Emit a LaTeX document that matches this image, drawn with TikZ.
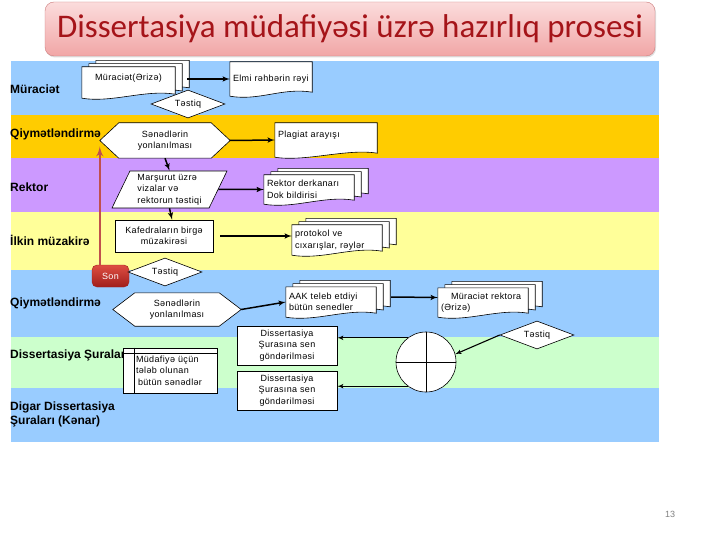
\documentclass[tikz,border=0pt]{standalone}
\usepackage{fontspec}
\setmainfont{Liberation Sans}
\newfontfamily\boxfont[LetterSpace=4]{Liberation Sans}
\newfontfamily\titlefont{Carlito}
\usetikzlibrary{shapes,arrows}
\usetikzlibrary{positioning,calc,shadows}
\usetikzlibrary{shapes.geometric}
\pgfdeclarelayer{lanes}
\pgfdeclarelayer{docs}
\pgfsetlayers{lanes,docs,main}

\definecolor{laneblue}{RGB}{153,204,255}
\definecolor{lanegold}{RGB}{255,204,0}
\definecolor{lanepurple}{RGB}{204,153,255}
\definecolor{laneyellow}{RGB}{255,255,153}
\definecolor{lanegreen}{RGB}{204,255,204}
\definecolor{titlered}{RGB}{165,20,25}
\definecolor{titletop}{RGB}{251,220,220}
\definecolor{titlebot}{RGB}{241,166,166}
\definecolor{titleedge}{RGB}{205,125,125}
\definecolor{arrowred}{RGB}{192,80,77}
\definecolor{sontop}{RGB}{222,78,66}
\definecolor{sonbot}{RGB}{160,30,28}

\tikzset{
  txt/.style={font=\boxfont\fontsize{9}{11.5}\selectfont},
  lanelbl/.style={anchor=west, inner sep=2pt, font=\bfseries\fontsize{12}{14}\selectfont},
  doc/.style={txt, align=left, inner xsep=3pt, inner ysep=2pt},
  procbox/.style={txt, draw, fill=white, line width=0.6pt, inner sep=2pt},
  hexa/.style={txt, align=center, inner sep=2pt},
  decide/.style={procbox, diamond, aspect=2.6, inner sep=0pt, minimum width=74pt, minimum height=28pt},
  slanted/.style={procbox, trapezium, trapezium left angle=60, trapezium right angle=120,
    trapezium stretches body, inner sep=0pt, align=left},
  docline/.style={draw, fill=white, line width=0.6pt},
  flow/.style={->, line width=1.5pt},
  thinflow/.style={->, line width=1.1pt},
  redflow/.style={->, draw=arrowred, line width=2.4pt},
  sonbtn/.style={rounded corners=5pt, top color=sontop, bottom color=sonbot, draw=sonbot,
    text=white, font=\boxfont\fontsize{9}{10}\selectfont, minimum width=37pt, minimum height=22pt},
  titlebox/.style={draw=titleedge, rounded corners=9pt, top color=titletop, bottom color=titlebot,
    minimum width=610pt, minimum height=54pt, text=titlered,
    font=\titlefont\fontsize{33}{34}\selectfont,
    drop shadow={opacity=0.25, shadow xshift=1pt, shadow yshift=-1.5pt}}
}

% document outline with a wavy bottom, drawn behind the node text
\newcommand{\docframe}[2][]{%
  \begin{pgfonlayer}{docs}
  \draw[docline,#1] (#2.north west) -- (#2.north east) -- ([yshift=4pt]#2.south east)
    .. controls ([xshift=-30pt,yshift=9pt]#2.south east) and ([xshift=30pt,yshift=-5pt]#2.south west) .. (#2.south west) -- cycle;
  \end{pgfonlayer}}
\newcommand{\stackframe}[1]{%
  \docframe[transform canvas={shift={(14pt,6.4pt)}}]{#1}%
  \docframe[transform canvas={shift={(7pt,3.2pt)}}]{#1}%
  \docframe{#1}}
% hexagon outline round a node, points at west and east
\newcommand{\hexframe}[2][18pt]{%
  \begin{pgfonlayer}{docs}
  \draw[docline] (#2.west) -- ([xshift=#1]#2.north west) -- ([xshift=-#1]#2.north east) -- (#2.east)
    -- ([xshift=-#1]#2.south east) -- ([xshift=#1]#2.south west) -- cycle;
  \end{pgfonlayer}}

\begin{document}
\begin{tikzpicture}[x=1pt,y=-1pt,>=latex',thick]
\useasboundingbox (0,0) rectangle (720,540);
\begin{pgfonlayer}{lanes}
\fill[white] (0,0) rectangle (720,540);
\foreach \ya/\yb/\col in {61/115/laneblue,115/158/lanegold,158/212/lanepurple,212/270/laneyellow,
  270/337/laneblue,337/388/lanegreen,388/442/laneblue}
  \fill[\col] (11,\ya) rectangle (659,\yb);
\end{pgfonlayer}

\node[titlebox] (title) at (350,29) {Dissertasiya müdafiyəsi üzrə hazırlıq prosesi};

% lane labels
\node[lanelbl] (lmur) at (8,89) {Müraciət};
\node[lanelbl] (lqiy1) at (8,134) {Qiymətləndirmə};
\node[lanelbl] (lrek) at (8,187) {Rektor};
\node[lanelbl] (lilk) at (8,240) {İlkin müzakirə};
\node[lanelbl] (lqiy2) at (8,303) {Qiymətləndirmə};
\node[lanelbl] (ldis) at (8,355) {Dissertasiya Şuraları};
\node[lanelbl,align=left] (ldig) at (8,414) {Digar Dissertasiya\\Şuraları (Kənar)};

% Müraciət
\node[doc,align=center,text width=87pt,minimum height=31pt] (arz) at (128.5,82.5) {Müraciət(Ərizə)\\~};
\stackframe{arz}
\node[doc,text width=76pt,minimum height=34pt] (elmi) at (271,79) {Elmi rəhbərin rəyi};
\docframe{elmi}
\node[decide] (t1) at (188,104) {Təstiq};
\path[flow,draw] ($(elmi.west -| arz.east)+(12,0)$) -- (elmi.west);

% Qiymətləndirmə
\node[hexa,minimum width=130pt,minimum height=35pt] (hex1) at (165,140.5) {Sənədlərin\\yonlanılması};
\hexframe[19pt]{hex1}
\node[doc,text width=96pt,minimum height=34pt] (plag) at (326,140) {Plagiat arayışı\\~};
\docframe{plag}
\path[flow,draw] (hex1.east) -- (plag.west);

% Rektor
\node[slanted,minimum width=115pt,minimum height=37pt] (par) at (169.5,189.5) {Marşurut üzrə\\vizalar və\\rektorun təstiqi};
\node[doc,text width=84pt,minimum height=29pt] (derk) at (309,189.5) {Rektor derkanarı\\Dok bildirisi};
\stackframe{derk}
\path[flow,draw] (hex1.south) -- (par.north);
\path[flow,draw] (par.east) -- (derk.west);

% İlkin müzakirə
\node[procbox,align=center,minimum width=98pt,minimum height=32pt] (kaf) at (164,236) {Kafedraların birgə\\müzakirəsi};
\node[doc,text width=84pt,minimum height=30pt] (prot) at (337,240) {protokol ve\\cıxarışlar, rəylər};
\stackframe{prot}
\path[flow,draw] (par.south) -- ($(kaf.north)+(8,0)$);
\path[flow,draw,shorten <=7pt] (kaf.east) -- (kaf.east -| prot.west);

% Qiymətləndirmə (ikinci)
\node[sonbtn] (son) at (110.5,276) {Son};
\node[decide] (t2) at (165,272) {Təstiq};
\node[hexa,minimum width=128pt,minimum height=33pt] (hex2) at (177,309.5) {Sənədlərin\\yonlanılması};
\hexframe[22pt]{hex2}
\node[doc,text width=84pt,minimum height=30pt] (aak) at (331,302) {AAK teleb etdiyi\\bütün senedler};
\stackframe{aak}
\node[doc,text width=84pt,minimum height=29pt] (mrek) at (483,302.5) {\hspace*{10pt}Müraciət rektora\\(Ərizə)};
\stackframe{mrek}
\path[flow,draw] (hex2.east) -- (aak.west);
\path[flow,draw] ($(aak.east)+(15,-5)$) -- ($(mrek.west)+(0,-5)$);
\path[redflow] (son.north -| hex1.west) -- ($(hex1.west)+(0,6)$);

% Dissertasiya Şuraları
\node[procbox,align=center,minimum width=100pt,minimum height=39pt] (dis1) at (287,345.5) {Dissertasiya\\Şurasına sen\\göndərilməsi};
\node[procbox,align=center,minimum width=100pt,minimum height=39pt] (dis2) at (287,390.5) {Dissertasiya\\Şurasına sen\\göndərilməsi};
\node[procbox,align=left,text width=94pt,inner xsep=0pt,minimum height=45pt] (mud) at (170,370.5)
  {\mbox{}\\[-4.5pt]\hspace*{13pt}Müdafiyə üçün\\\hspace*{13pt}tələb olunan\\\hspace*{15pt}bütün sənədlər};
\draw[line width=0.6pt] ($(mud.north west)+(0,6)$) -- ($(mud.north east)+(0,6)$);
\draw[line width=0.6pt] ($(mud.north west)+(12,0)$) -- ($(mud.south west)+(12,0)$);
\node[procbox,circle,minimum size=60pt] (join) at (426,362) {};
\draw[line width=0.6pt] (join.north) -- (join.south) (join.west) -- (join.east);
\node[decide] (t3) at (537,335) {Təstiq};
\path[thinflow,draw] (t3.west) -- (join.15);
\path[thinflow,draw] (join.127) -- (join.127 -| dis1.east);
\path[thinflow,draw] (join.233) -- (join.233 -| dis2.east);

\node[text=gray,font=\fontsize{9}{10}\selectfont] (pnum) at (670,514) {13};
\end{tikzpicture}
\end{document}
